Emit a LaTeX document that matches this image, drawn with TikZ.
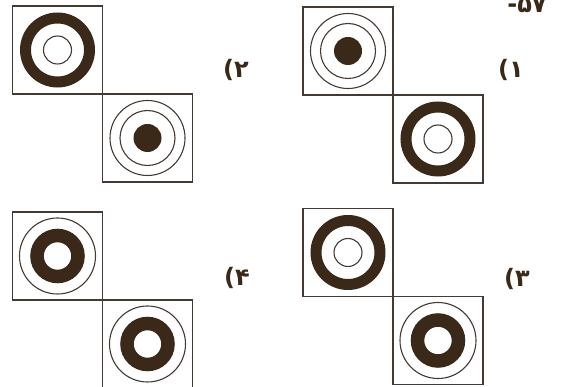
\documentclass[tikz,border=0pt]{standalone}
\usepackage{fontspec}
\usetikzlibrary{positioning}
\newfontfamily\numfont{DejaVu Sans}
\definecolor{ink}{RGB}{68,58,52}
\definecolor{ringbrown}{RGB}{58,40,24}

\begin{document}
\begin{tikzpicture}[x=1pt,y=-1pt,
  sq/.style={draw=ink,line width=1.2pt,minimum width=90pt,minimum height=88pt,inner sep=0pt,outer sep=0pt},
  fine/.style={draw=ink,line width=1.1pt},
  band/.style={draw=ringbrown,line width=11pt},
  wideband/.style={draw=ringbrown,line width=13.5pt},
  dot/.style={fill=ringbrown},
  lab/.style={font=\numfont\bfseries\fontsize{24}{24}\selectfont,text=ringbrown,inner sep=0pt}]
 \useasboundingbox (0,0) rectangle (563,387);
 % ---- option 2 (top left) ----
 \node[sq] (a2) at (57.5,50) {};
 \node[sq,below right=0pt of a2] (b2) {};
 \draw[band] (a2.center) circle[radius=32pt];
 \draw[fine] (a2.center) circle[radius=14pt];
 \draw[fine] (b2.center) circle[radius=37.5pt];
 \draw[fine] (b2.center) circle[radius=27.5pt];
 \fill[dot] (b2.center) circle[radius=14pt];
 \node[lab] (l2) at (236,70) {(۲};
 % ---- option 1 (top right) ----
 \node[sq] (a1) at (348,51) {};
 \node[sq,below right=0pt of a1] (b1) {};
 \draw[fine] (a1.center) circle[radius=37.5pt];
 \draw[fine] (a1.center) circle[radius=27.5pt];
 \fill[dot] (a1.center) circle[radius=14pt];
 \draw[band] (b1.center) circle[radius=32pt];
 \draw[fine] (b1.center) circle[radius=14pt];
 \node[lab] (l1) at (511,70) {(۱};
 \node[lab] (q) at (527,5) {-۵۷};
 % ---- option 4 (bottom left) ----
 \node[sq] (a4) at (57.5,256) {};
 \node[sq,below right=0pt of a4] (b4) {};
 \draw[fine] (a4.center) circle[radius=38pt];
 \draw[wideband] (a4.center) circle[radius=20.5pt];
 \draw[fine] (b4.center) circle[radius=38pt];
 \draw[wideband] (b4.center) circle[radius=20.5pt];
 \node[lab] (l4) at (237,278) {(۴};
 % ---- option 3 (bottom right) ----
 \node[sq] (a3) at (348,252.5) {};
 \node[sq,below right=0pt of a3] (b3) {};
 \draw[band] (a3.center) circle[radius=32pt];
 \draw[fine] (a3.center) circle[radius=14pt];
 \draw[fine] (b3.center) circle[radius=38pt];
 \draw[wideband] (b3.center) circle[radius=20.5pt];
 \node[lab] (l3) at (517,279) {(۳};
\end{tikzpicture}
\end{document}
